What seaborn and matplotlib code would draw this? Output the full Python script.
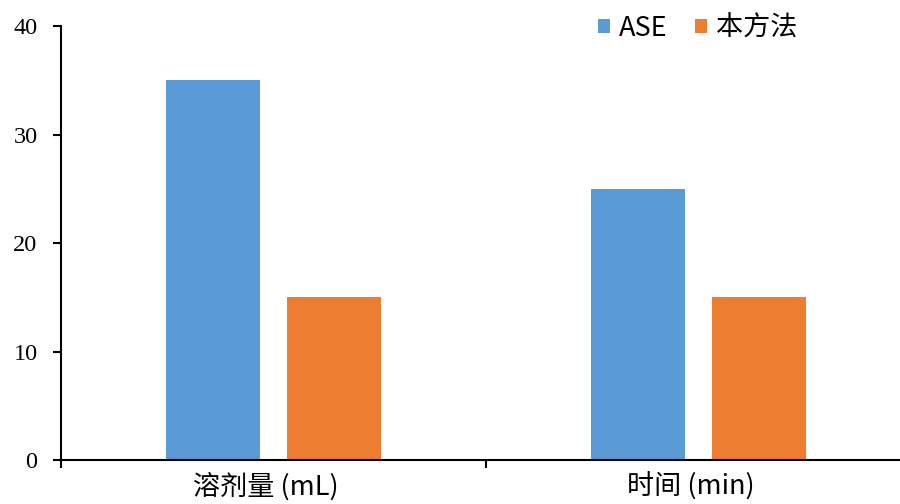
import matplotlib
matplotlib.use("Agg")
import matplotlib.pyplot as plt
import matplotlib.transforms as mtransforms
import seaborn as sns
import pandas as pd

categories = ["溶剂量 (mL)", "时间 (min)"]
methods = ["ASE", "本方法"]
ase_values = [35, 25]
our_values = [15, 15]
y_ticks = [0, 10, 20, 30, 40]
colors = ["#5B9BD5", "#ED7D31"]

sns.set_theme(style="white")
plt.rcParams["font.family"] = ["Noto Sans CJK SC", "DejaVu Sans"]

df = pd.DataFrame({
    "category": categories * 2,
    "method": [methods[0]] * len(categories) + [methods[1]] * len(categories),
    "value": ase_values + our_values,
})

fig = plt.figure(figsize=(9, 5.04), dpi=100)
ax = fig.add_axes([0.068, 0.087, 0.944, 0.861])

sns.barplot(data=df, x="category", y="value", hue="method", order=categories,
            hue_order=methods, palette=colors, width=0.57, gap=0.223,
            saturation=1, ax=ax, errorbar=None, edgecolor="none")

ax.set_xlim(-0.5, 1.5)
ax.set_ylim(0, 40)
ax.set_yticks(y_ticks)
ax.set_yticklabels([str(v) for v in y_ticks])
ax.set_xticks(range(len(categories)))
ax.set_xticklabels(categories)
ax.set_xticks([-0.5, 0.5, 1.5], minor=True)
ax.tick_params(axis="x", which="major", length=0, pad=9)
ax.tick_params(axis="x", which="minor", length=6, width=1.5, direction="out", color="black", bottom=True)
ax.tick_params(axis="y", length=6, width=1.5, direction="out", color="black", left=True, pad=11,
               labelsize=17.5, labelcolor="black",
               labelfontfamily=["Liberation Serif", "DejaVu Serif"])
ax.set_xlabel("")
ax.set_ylabel("")

shift = mtransforms.ScaledTranslation(-8 / 100, 0, fig.dpi_scale_trans)
for lbl in ax.get_xticklabels():
    lbl.set_fontsize(19.5)
    lbl.set_fontweight("medium")
    lbl.set_color("black")
    lbl.set_transform(lbl.get_transform() + shift)

for side in ["top", "right"]:
    ax.spines[side].set_visible(False)
for side in ["left", "bottom"]:
    ax.spines[side].set_color("black")
    ax.spines[side].set_linewidth(1.5)

leg = ax.legend(loc="center", bbox_to_anchor=(0.775, 0.944), bbox_transform=fig.transFigure,
                ncol=2, frameon=False, borderpad=0,
                prop={"size": 19.5, "weight": "medium"},
                handlelength=0.45, handleheight=0.45, handletextpad=0.32,
                columnspacing=1.0)
for t in leg.get_texts():
    t.set_color("black")

fig.savefig("out.png", dpi=100)
